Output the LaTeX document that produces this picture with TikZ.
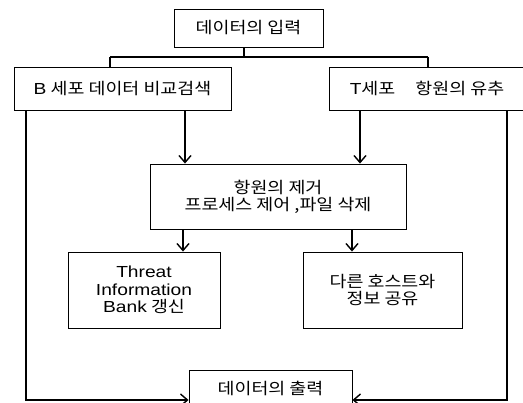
\documentclass[tikz,border=0pt]{standalone}
\usepackage{fontspec}
\setmainfont[FakeStretch=1.15]{Noto Sans CJK KR}
\newfontfamily\latinf[FakeStretch=1.2]{Liberation Sans}
\usetikzlibrary{arrows.meta}
\begin{document}
\begin{tikzpicture}[x=1pt,y=-1pt,
  box/.style={draw,line width=0.9pt,rectangle,inner sep=0pt,align=center,font=\fontsize{16}{17}\selectfont},
  conn/.style={line width=1.7pt},
  arr/.style={line width=1.7pt,-{Straight Barb[length=7pt,width=12pt,line width=1.4pt]}}]
\useasboundingbox (0,0) rectangle (523,403);
\node[box,minimum width=149pt,minimum height=38pt] (in) at (248.5,28) {데이터의 입력};
\node[box,minimum width=217pt,minimum height=43pt] (B) at (122.5,88.5) {{\latinf B} 세포 데이터 비교검색};
\node[box,minimum width=196pt,minimum height=43pt] (T) at (427,88.5) {{\latinf T}세포\quad\ 항원의 유추};
\node[box,minimum width=256pt,minimum height=65pt] (mid) at (278,196.5) {항원의 제거\\프로세스 제어 ,파일 삭제};
\node[box,minimum width=152pt,minimum height=76pt,font=\fontsize{16}{17.5}\selectfont] (thr) at (144,290) {{\latinf Threat}\\{\latinf Information}\\{\latinf Bank} 갱신};
\node[box,minimum width=159pt,minimum height=76pt] (oth) at (382.5,290) {다른 호스트와\\정보 공유};
\node[box,minimum width=163pt,minimum height=36pt] (out) at (270.5,388) {데이터의 출력};
% junction
\coordinate (j) at (244,57);
\coordinate (jl) at (110,57);
\coordinate (jr) at (428,57);
\draw[conn] (in.south -| j) -- (j);
\draw[conn] (jl) -- (jr);
\draw[conn] (jl) -- (B.north -| jl);
\draw[conn] (jr) -- (T.north -| jr);
% B and T to mid
\coordinate (b1) at (185,0);
\coordinate (t1) at (360,0);
\draw[arr] (B.south -| b1) -- (mid.north -| b1);
\draw[arr] (T.south -| t1) -- (mid.north -| t1);
% mid to lower boxes
\coordinate (m1) at (183,0);
\coordinate (m2) at (352,0);
\draw[arr] (mid.south -| m1) -- (thr.north -| m1);
\draw[arr] (mid.south -| m2) -- (oth.north -| m2);
% outer loops to output
\coordinate (lx) at (26,400);
\coordinate (rx) at (507,400);
\coordinate (oL) at (189,400);
\coordinate (oR) at (352,400);
\draw[arr] (B.south -| lx) -- (lx) -- (out.west |- oL);
\draw[arr] (T.south -| rx) -- (rx) -- (out.east |- oR);
\end{tikzpicture}
\end{document}
